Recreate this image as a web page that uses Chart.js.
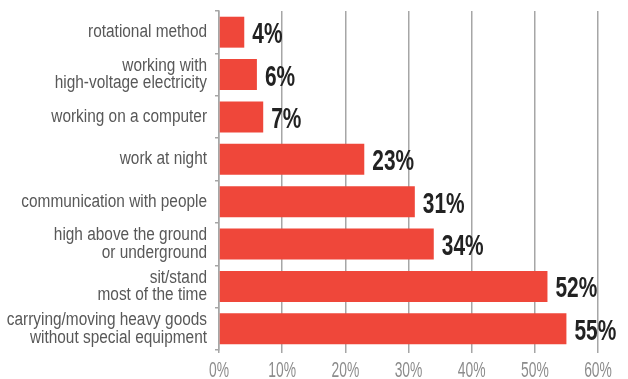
<!DOCTYPE html>
<html>
<head>
<meta charset="utf-8">
<script src="https://cdn.jsdelivr.net/npm/chart.js@4/dist/chart.umd.min.js"></script>
<style>
    html, body { margin: 0; padding: 0; background: #ffffff; }
    #wrap { width: 628px; height: 379px; position: relative; }
</style>
</head>
<body>
<div id="wrap"><canvas id="grafico"></canvas></div>
<script>
// categorias (multilinea) y porcentajes
const categorias = [
    ['rotational method'],
    ['working with', 'high-voltage electricity'],
    ['working on a computer'],
    ['work at night'],
    ['communication with people'],
    ['high above the ground', 'or underground'],
    ['sit/stand', 'most of the time'],
    ['carrying/moving heavy goods', 'without special equipment']
];
const porcentajes = [4, 6, 7, 23, 31, 34, 52, 55];
const ticksX = [0, 10, 20, 30, 40, 50, 60];

const FUENTE = "'Liberation Sans', Arial, sans-serif";
const GRIS = '#a6a6a6';

// texto estrechado horizontalmente (la fuente original es muy condensada)
function textoEstrecho(ctx, texto, x, y, escala, align) {
    ctx.save();
    ctx.translate(x, y);
    ctx.scale(escala, 1);
    ctx.textAlign = align;
    ctx.fillText(texto, 0, 0);
    ctx.restore();
}

const etiquetasPlugin = {
    id: 'etiquetas',
    afterDatasetsDraw(chart) {
        const ctx = chart.ctx;
        ctx.save();
        ctx.textBaseline = 'alphabetic';

        // valores al final de cada barra
        const meta = chart.getDatasetMeta(0);
        ctx.fillStyle = '#222222';
        ctx.font = 'bold 29px ' + FUENTE;
        meta.data.forEach((barra, i) => {
            textoEstrecho(ctx, porcentajes[i] + '%', barra.x + 8, barra.y + 11, 0.72, 'left');
        });

        // etiquetas del eje y (categorias)
        const escalaY = chart.scales.y;
        const interlineado = 17.5;
        ctx.fillStyle = '#585858';
        ctx.font = '18px ' + FUENTE;
        categorias.forEach((lineas, i) => {
            const centro = escalaY.getPixelForValue(i);
            const base = centro + 5 - (lineas.length - 1) * interlineado / 2;
            lineas.forEach((linea, j) => {
                textoEstrecho(ctx, linea, escalaY.right - 12, base + j * interlineado, 0.855, 'right');
            });
        });

        // etiquetas del eje x
        const escalaX = chart.scales.x;
        ctx.fillStyle = '#8c8c8c';
        ctx.font = '22px ' + FUENTE;
        ticksX.forEach(v => {
            textoEstrecho(ctx, v + '%', escalaX.getPixelForValue(v), 377, 0.63, 'center');
        });
        ctx.restore();
    }
};

const ctx = document.getElementById('grafico').getContext('2d');
new Chart(ctx, {
    type: 'bar',
    data: {
        labels: categorias,
        datasets: [{
            data: porcentajes,
            backgroundColor: '#ef473a',
            borderWidth: 0,
            barPercentage: 0.73,
            categoryPercentage: 1
        }]
    },
    options: {
        indexAxis: 'y',
        responsive: true,
        maintainAspectRatio: false,
        animation: false,
        layout: { padding: { top: 11, right: 30, left: 0, bottom: 0 } },
        plugins: {
            legend: { display: false },
            tooltip: { enabled: false }
        },
        scales: {
            x: {
                min: 0,
                max: 60,
                afterBuildTicks: axis => { axis.ticks = ticksX.map(v => ({ value: v })); },
                afterFit: axis => { axis.height = 29; },
                ticks: { display: false },
                border: { display: false },
                grid: {
                    color: GRIS,
                    lineWidth: 1.5,
                    drawTicks: true,
                    tickLength: 3
                }
            },
            y: {
                afterFit: axis => { axis.width = 219; },
                border: { display: true, color: GRIS, width: 1.5 },
                grid: {
                    offset: true,
                    drawOnChartArea: false,
                    drawTicks: true,
                    tickLength: 4,
                    color: GRIS,
                    lineWidth: 1.5
                },
                ticks: { display: false }
            }
        }
    },
    plugins: [etiquetasPlugin]
});
</script>
</body>
</html>
